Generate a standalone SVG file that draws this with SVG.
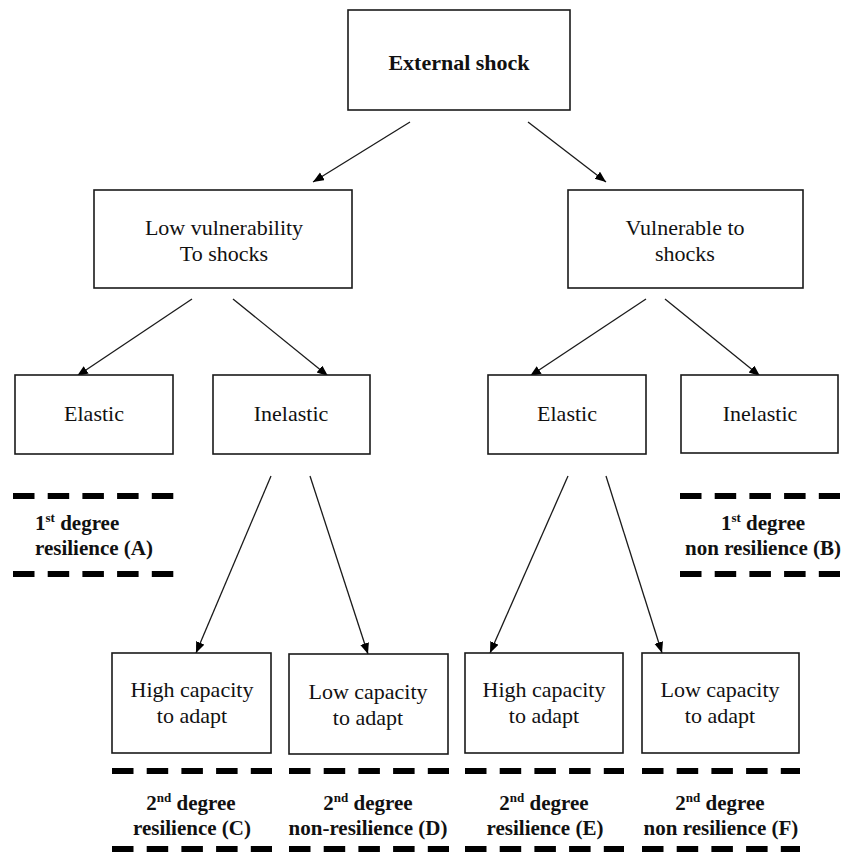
<svg xmlns="http://www.w3.org/2000/svg" width="845" height="852" viewBox="0 0 845 852">
<style>
.box{fill:#fff;stroke:#1a1a1a;stroke-width:1.6}
.t{font-family:"Liberation Serif","Times New Roman",serif;font-size:22px;fill:#111;text-anchor:middle}
.b{font-weight:bold}
.lb{font-weight:bold;font-size:21px}
.sup{font-size:13px}
.lnk{stroke:#1a1a1a;stroke-width:1.3;fill:none;marker-end:url(#ah)}
.dash{stroke:#000;stroke-width:6;stroke-dasharray:21.5 13.2;fill:none}
</style>
<defs>
<marker id="ah" markerUnits="userSpaceOnUse" markerWidth="12" markerHeight="10" refX="11" refY="4.5" orient="auto">
<path d="M0,0 L11,4.5 L0,9 z" fill="#000"/>
</marker>
</defs>
<rect width="845" height="852" fill="#fff"/>
<g id="connectors">
<line class="lnk" x1="410" y1="122" x2="313" y2="182"/>
<line class="lnk" x1="528" y1="122" x2="606" y2="182"/>
<line class="lnk" x1="192" y1="299" x2="77" y2="376"/>
<line class="lnk" x1="233" y1="299" x2="328" y2="376"/>
<line class="lnk" x1="646" y1="299" x2="530" y2="376"/>
<line class="lnk" x1="665" y1="299" x2="760" y2="376"/>
<line class="lnk" x1="271" y1="476" x2="196" y2="653"/>
<line class="lnk" x1="310" y1="476" x2="368" y2="654"/>
<line class="lnk" x1="568" y1="476" x2="490" y2="653"/>
<line class="lnk" x1="606" y1="476" x2="662" y2="653"/>
</g>
<g id="external-shock">
<rect class="box" x="348" y="10" width="222" height="100"/>
<text class="t b" x="459" y="70">External shock</text>
</g>
<g id="low-vulnerability">
<rect class="box" x="94" y="190" width="258" height="98"/>
<text class="t" x="224" y="235">Low vulnerability</text>
<text class="t" x="224" y="261">To shocks</text>
</g>
<g id="vulnerable">
<rect class="box" x="568" y="190" width="235" height="98"/>
<text class="t" x="685" y="235">Vulnerable to</text>
<text class="t" x="685" y="261">shocks</text>
</g>
<g id="elastic-left">
<rect class="box" x="15" y="375" width="158" height="79"/>
<text class="t" x="94" y="421">Elastic</text>
</g>
<g id="inelastic-left">
<rect class="box" x="213" y="375" width="157" height="79"/>
<text class="t" x="291" y="421">Inelastic</text>
</g>
<g id="elastic-right">
<rect class="box" x="488" y="375" width="158" height="79"/>
<text class="t" x="567" y="421">Elastic</text>
</g>
<g id="inelastic-right">
<rect class="box" x="681" y="375" width="157" height="78"/>
<text class="t" x="760" y="421">Inelastic</text>
</g>
<g id="high-capacity-c">
<rect class="box" x="112" y="653" width="159" height="100"/>
<text class="t" x="192" y="697">High capacity</text>
<text class="t" x="192" y="723">to adapt</text>
</g>
<g id="low-capacity-d">
<rect class="box" x="289" y="654" width="159" height="100"/>
<text class="t" x="368" y="699">Low capacity</text>
<text class="t" x="368" y="725">to adapt</text>
</g>
<g id="high-capacity-e">
<rect class="box" x="465" y="653" width="158" height="100"/>
<text class="t" x="544" y="697">High capacity</text>
<text class="t" x="544" y="723">to adapt</text>
</g>
<g id="low-capacity-f">
<rect class="box" x="642" y="653" width="157" height="100"/>
<text class="t" x="720" y="697">Low capacity</text>
<text class="t" x="720" y="723">to adapt</text>
</g>
<g id="label-a">
<line class="dash" x1="13" y1="496" x2="174" y2="496"/>
<line class="dash" x1="13" y1="574" x2="174" y2="574"/>
<text class="t lb" x="35" y="530" style="text-anchor:start">1<tspan class="sup" dy="-8">st</tspan><tspan dy="8"> degree</tspan></text>
<text class="t lb" x="35" y="555" style="text-anchor:start">resilience (A)</text>
</g>
<g id="label-b">
<line class="dash" x1="680" y1="496" x2="840" y2="496"/>
<line class="dash" x1="680" y1="574" x2="840" y2="574"/>
<text class="t lb" x="763" y="530">1<tspan class="sup" dy="-8">st</tspan><tspan dy="8"> degree</tspan></text>
<text class="t lb" x="763" y="555">non resilience (B)</text>
</g>
<g id="label-c">
<line class="dash" x1="112" y1="771" x2="272" y2="771"/>
<line class="dash" x1="112" y1="849" x2="272" y2="849"/>
<text class="t lb" x="191" y="810">2<tspan class="sup" dy="-8">nd</tspan><tspan dy="8"> degree</tspan></text>
<text class="t lb" x="192" y="835">resilience (C)</text>
</g>
<g id="label-d">
<line class="dash" x1="289" y1="771" x2="449" y2="771"/>
<line class="dash" x1="289" y1="849" x2="449" y2="849"/>
<text class="t lb" x="368" y="810">2<tspan class="sup" dy="-8">nd</tspan><tspan dy="8"> degree</tspan></text>
<text class="t lb" x="368" y="835">non-resilience (D)</text>
</g>
<g id="label-e">
<line class="dash" x1="465" y1="771" x2="624" y2="771"/>
<line class="dash" x1="465" y1="849" x2="624" y2="849"/>
<text class="t lb" x="544" y="810">2<tspan class="sup" dy="-8">nd</tspan><tspan dy="8"> degree</tspan></text>
<text class="t lb" x="545" y="835">resilience (E)</text>
</g>
<g id="label-f">
<line class="dash" x1="642" y1="771" x2="800" y2="771"/>
<line class="dash" x1="642" y1="849" x2="800" y2="849"/>
<text class="t lb" x="720" y="810">2<tspan class="sup" dy="-8">nd</tspan><tspan dy="8"> degree</tspan></text>
<text class="t lb" x="721" y="835">non resilience (F)</text>
</g>
</svg>
